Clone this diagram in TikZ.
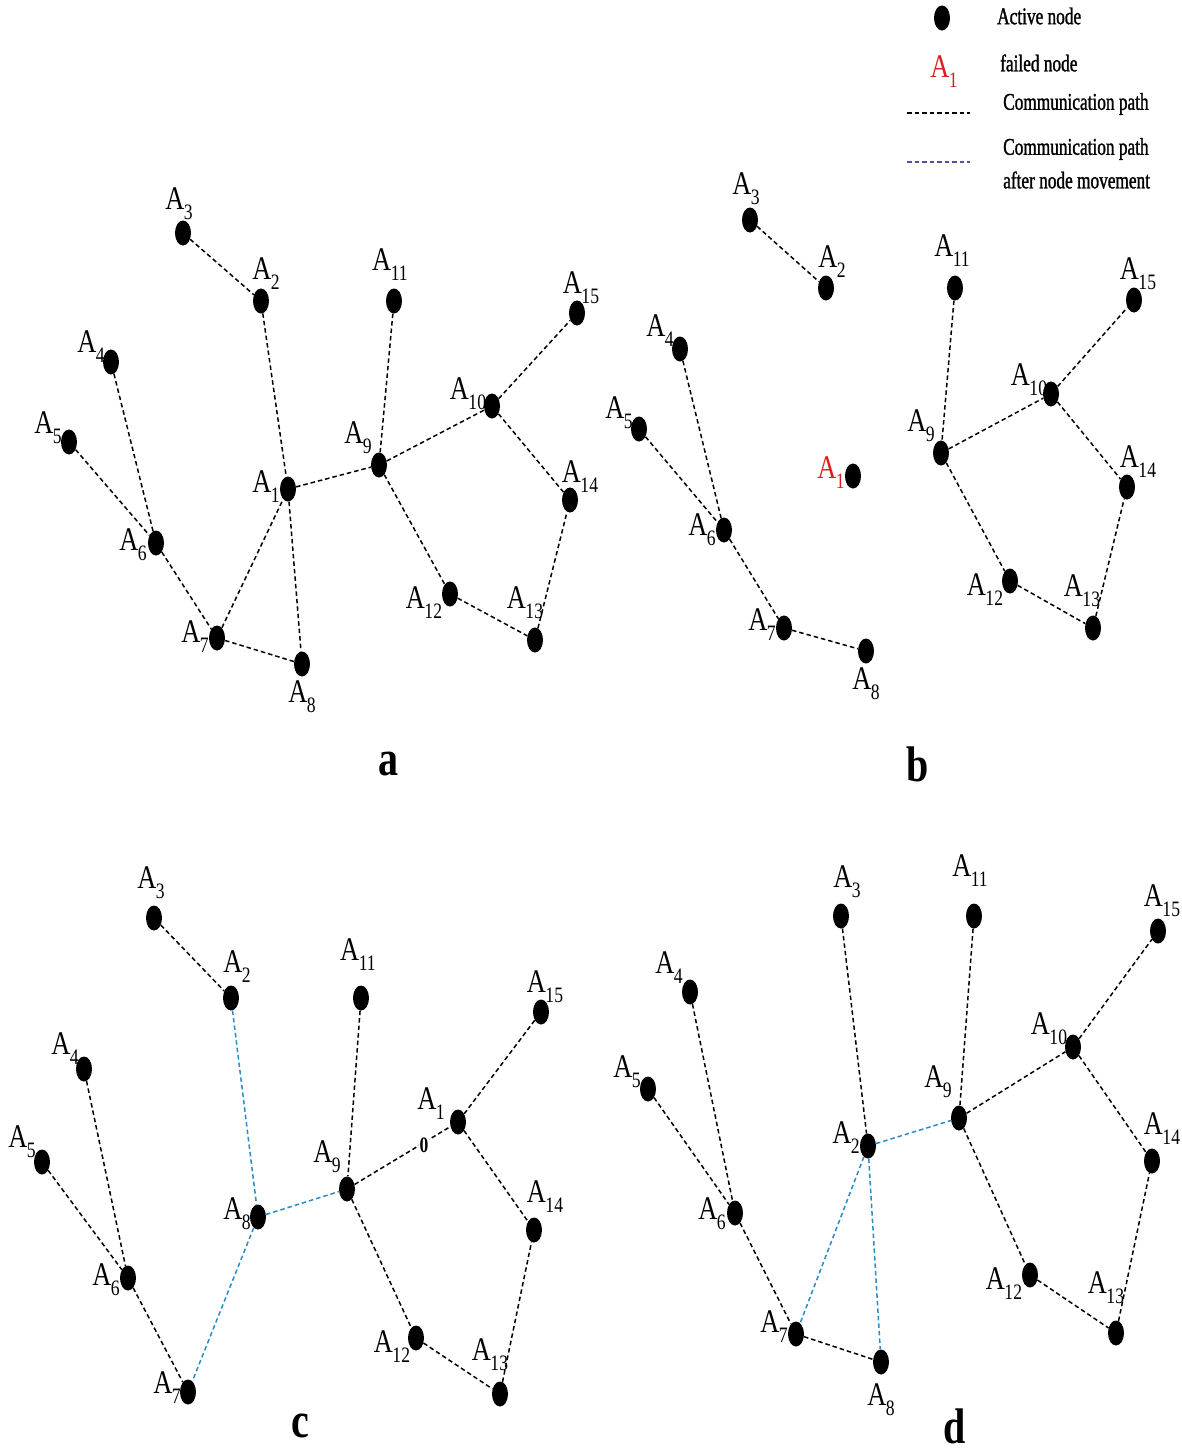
\documentclass[tikz,border=0pt]{standalone}
\usepackage{fontspec}
\setmainfont{Liberation Serif}[FakeStretch=0.8]
\newfontfamily\legfont{Liberation Serif}[FakeStretch=0.72, FakeBold=1.2]
\usetikzlibrary{shapes.geometric}
\definecolor{moveblue}{RGB}{40,140,200}
\definecolor{legblue}{RGB}{80,80,170}
\definecolor{failred}{RGB}{220,30,30}
\newcommand\Asub[1]{A\kern-0.5pt\raisebox{-0.3em}{\fontsize{22}{22}\selectfont #1}}
\newcommand\nd[6]{\node[dot] (#1) at (#3,#4) {}; \node[lbl] (#1l) at (#5,#6) {\Asub{#2}};}
\tikzset{
  dot/.style={ellipse, fill=black, draw=none, minimum width=16pt, minimum height=25pt, inner sep=0pt},
  lbl/.style={font=\fontsize{33}{33}\selectfont, inner sep=0pt},
  comm/.style={draw=black, line width=1.5pt, dash pattern=on 4.5pt off 3pt},
  moved/.style={draw=moveblue, line width=1.5pt, dash pattern=on 4.5pt off 3pt},
  legtxt/.style={font=\legfont\fontsize{24}{26}\selectfont, inner sep=0pt, align=left},
  panel/.style={font=\bfseries\fontsize{50}{50}\selectfont, inner sep=0pt}
}
\begin{document}
\begin{tikzpicture}[x=1pt,y=-1pt]
\useasboundingbox (0,0) rectangle (1182,1452);
\fill[white] (0,0) rectangle (1182,1452);

% ---------------- Legend ----------------
\node[dot] (legdot) at (942,18) {};
\node[legtxt, anchor=west] (legact) at (997,16) {Active node};
\node[lbl, text=failred] (legfail) at (944,72) {\Asub{1}};
\node[legtxt, anchor=west] (legfailt) at (1000,63) {failed node};
\coordinate (lc1a) at (907,113);
\coordinate (lc1b) at (970,113);
\draw[comm, line width=1.2pt] (lc1a) -- (lc1b);
\node[legtxt, anchor=west] (legcomm) at (1003,104) {Communication path};
\coordinate (lc2a) at (907,162);
\coordinate (lc2b) at (970,162);
\draw[draw=legblue, line width=1.2pt, dash pattern=on 4.5pt off 3pt] (lc2a) -- (lc2b);
\node[legtxt, anchor=west] (legmove) at (1003,149) {Communication path};
\node[legtxt, anchor=west] (legmove2) at (1003,180) {after node movement};

% ---------------- Panel a ----------------
\nd{a3}{3}{183}{233}{179}{204}
\nd{a2}{2}{261}{301}{266}{274}
\nd{a11}{11}{394}{301}{390}{265}
\nd{a15}{15}{577}{313}{581}{288}
\nd{a4}{4}{111}{362}{91}{347}
\nd{a10}{10}{492}{406}{468}{394}
\nd{a5}{5}{69}{442}{48}{428}
\nd{a9}{9}{379}{465}{358}{438}
\nd{a1}{1}{288}{489}{266}{487}
\nd{a14}{14}{570}{500}{580}{477}
\nd{a6}{6}{156}{543}{133}{545}
\nd{a12}{12}{450}{594}{424}{603}
\nd{a13}{13}{535}{640}{525}{603}
\nd{a7}{7}{217}{638}{195}{637}
\nd{a8}{8}{302}{664}{302}{697}
\draw[comm] (a3) -- (a2);
\draw[comm] (a2) -- (a1);
\draw[comm] (a4) -- (a6);
\draw[comm] (a5) -- (a6);
\draw[comm] (a6) -- (a7);
\draw[comm] (a7) -- (a1);
\draw[comm] (a1) -- (a8);
\draw[comm] (a7) -- (a8);
\draw[comm] (a1) -- (a9);
\draw[comm] (a11) -- (a9);
\draw[comm] (a9) -- (a10);
\draw[comm] (a10) -- (a15);
\draw[comm] (a10) -- (a14);
\draw[comm] (a9) -- (a12);
\draw[comm] (a12) -- (a13);
\draw[comm] (a13) -- (a14);
\node[panel] (pa) at (388,764) {a};

% ---------------- Panel b ----------------
\nd{b3}{3}{750}{220}{746}{189}
\nd{b2}{2}{826}{288}{832}{262}
\nd{b11}{11}{955}{288}{952}{251}
\nd{b15}{15}{1134}{300}{1138}{274}
\nd{b4}{4}{680}{349}{660}{331}
\nd{b10}{10}{1051}{394}{1029}{380}
\nd{b5}{5}{639}{429}{619}{413}
\nd{b9}{9}{941}{453}{921}{426}
\node[dot] (b1) at (853,476) {};
\node[lbl, text=failred] (b1l) at (831,473) {\Asub{1}};
\nd{b14}{14}{1127}{487}{1138}{462}
\nd{b6}{6}{724}{530}{702}{530}
\nd{b12}{12}{1010}{581}{985}{590}
\nd{b13}{13}{1093}{628}{1082}{591}
\nd{b7}{7}{784}{628}{762}{625}
\nd{b8}{8}{866}{651}{866}{684}
\draw[comm] (b3) -- (b2);
\draw[comm] (b4) -- (b6);
\draw[comm] (b5) -- (b6);
\draw[comm] (b6) -- (b7);
\draw[comm] (b7) -- (b8);
\draw[comm] (b11) -- (b9);
\draw[comm] (b9) -- (b10);
\draw[comm] (b10) -- (b15);
\draw[comm] (b10) -- (b14);
\draw[comm] (b9) -- (b12);
\draw[comm] (b12) -- (b13);
\draw[comm] (b13) -- (b14);
\node[panel] (pb) at (918,764) {b};

% ---------------- Panel c ----------------
\nd{c3}{3}{154}{918}{151}{883}
\nd{c2}{2}{231}{998}{237}{967}
\nd{c11}{11}{361}{998}{358}{955}
\nd{c15}{15}{541}{1012}{545}{987}
\nd{c4}{4}{84}{1069}{65}{1049}
\nd{c1}{1}{458}{1122}{431}{1104}
\nd{c5}{5}{42}{1162}{22}{1142}
\nd{c9}{9}{347}{1189}{327}{1157}
\nd{c14}{14}{534}{1230}{545}{1197}
\nd{c8}{8}{258}{1217}{237}{1214}
\nd{c6}{6}{128}{1278}{106}{1280}
\nd{c12}{12}{416}{1338}{392}{1347}
\nd{c13}{13}{500}{1394}{490}{1355}
\nd{c7}{7}{188}{1392}{167}{1388}
\draw[comm] (c3) -- (c2);
\draw[moved] (c2) -- (c8);
\draw[moved] (c8) -- (c9);
\draw[moved] (c8) -- (c7);
\draw[comm] (c4) -- (c6);
\draw[comm] (c5) -- (c6);
\draw[comm] (c6) -- (c7);
\draw[comm] (c11) -- (c9);
\draw[comm] (c9) -- (c1);
\draw[comm] (c1) -- (c15);
\draw[comm] (c1) -- (c14);
\draw[comm] (c9) -- (c12);
\draw[comm] (c12) -- (c13);
\draw[comm] (c13) -- (c14);
\node[font=\bfseries\fontsize{22}{22}\selectfont, inner sep=1pt, fill=white] (c0) at (424,1145) {0};
\node[panel] (pc) at (300,1426) {c};

% ---------------- Panel d ----------------
\nd{d3}{3}{841}{916}{847}{882}
\nd{d11}{11}{974}{916}{970}{871}
\nd{d15}{15}{1158}{931}{1162}{901}
\nd{d4}{4}{690}{992}{669}{968}
\nd{d10}{10}{1073}{1047}{1049}{1029}
\nd{d5}{5}{648}{1089}{627}{1072}
\nd{d9}{9}{959}{1118}{938}{1082}
\nd{d2}{2}{868}{1146}{846}{1138}
\nd{d14}{14}{1152}{1161}{1162}{1129}
\nd{d6}{6}{735}{1213}{712}{1214}
\nd{d12}{12}{1030}{1275}{1004}{1284}
\nd{d13}{13}{1116}{1333}{1106}{1288}
\nd{d7}{7}{796}{1334}{774}{1327}
\nd{d8}{8}{881}{1362}{881}{1400}
\draw[comm] (d3) -- (d2);
\draw[moved] (d2) -- (d9);
\draw[moved] (d2) -- (d7);
\draw[moved] (d2) -- (d8);
\draw[comm] (d7) -- (d8);
\draw[comm] (d4) -- (d6);
\draw[comm] (d5) -- (d6);
\draw[comm] (d6) -- (d7);
\draw[comm] (d11) -- (d9);
\draw[comm] (d9) -- (d10);
\draw[comm] (d10) -- (d15);
\draw[comm] (d10) -- (d14);
\draw[comm] (d9) -- (d12);
\draw[comm] (d12) -- (d13);
\draw[comm] (d13) -- (d14);
\node[panel] (pd) at (955,1426) {d};
\end{tikzpicture}
\end{document}
